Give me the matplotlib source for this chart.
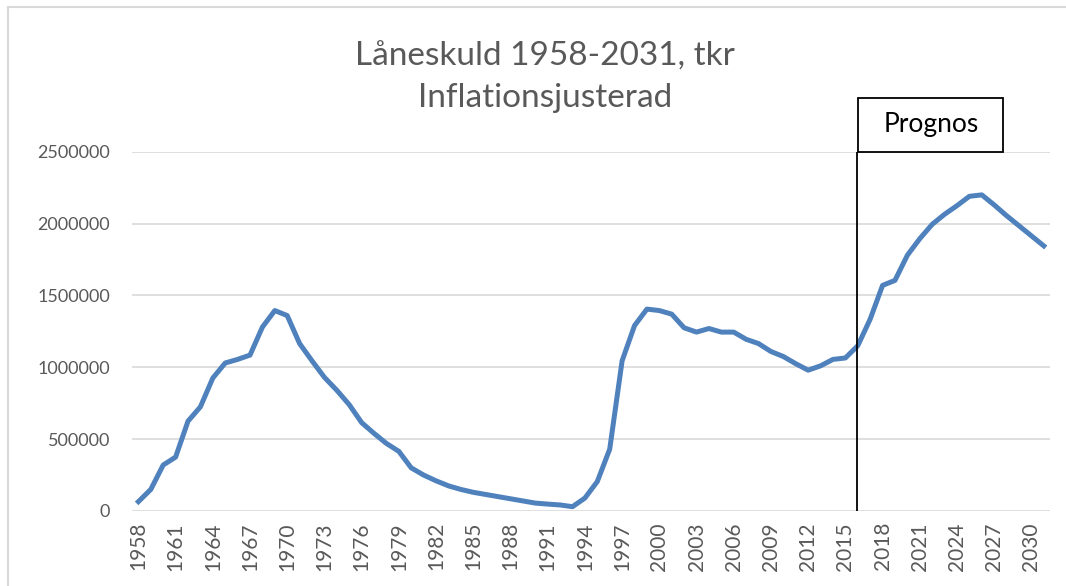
import matplotlib.pyplot as plt
from matplotlib.patches import Rectangle
from matplotlib.lines import Line2D

plt.rcParams['font.family'] = ['Lato', 'DejaVu Sans']

years = list(range(1958, 2032))
skuld = [65000, 150000, 320000, 375000, 625000, 725000, 925000, 1030000, 1055000, 1085000,
         1280000, 1395000, 1360000, 1165000, 1045000, 930000, 840000, 740000, 615000, 540000,
         470000, 415000, 300000, 250000, 210000, 175000, 150000, 130000, 115000, 100000,
         85000, 70000, 55000, 48000, 42000, 30000, 90000, 205000, 430000, 1045000,
         1290000, 1405000, 1395000, 1370000, 1275000, 1245000, 1270000, 1245000, 1245000, 1195000,
         1165000, 1110000, 1075000, 1025000, 980000, 1010000, 1055000, 1065000, 1150000, 1335000,
         1570000, 1605000, 1780000, 1895000, 1995000, 2065000, 2125000, 2190000, 2200000, 2130000,
         2055000, 1985000, 1915000, 1845000]
prognos_ar = 2016
yticks = [0, 500000, 1000000, 1500000, 2000000, 2500000]

grey = '#595959'
fig = plt.figure(figsize=(10.66, 5.86), dpi=100)
ax = fig.add_axes([0.124, 0.128, 0.861, 0.613])

# diagramramen (syns bara upptill och till vänster)
fig.add_artist(Line2D([0.0075, 1.0], [0.988, 0.988], color='#D9D9D9', linewidth=1.5))
fig.add_artist(Line2D([0.0075, 0.0075], [0.0, 0.988], color='#D9D9D9', linewidth=1.5))

x = list(range(len(years)))
ax.plot(x, skuld, color='#4F81BD', linewidth=3.6, solid_joinstyle='round', zorder=3)

# prognos-linje och ruta
xp = years.index(prognos_ar) - 0.1
ax.plot([xp, xp], [0, 2500000], color='black', linewidth=1.3, zorder=4)
ax.add_patch(Rectangle((xp + 0.15, 2500000), 11.7, 376000, fill=False,
                       edgecolor='black', linewidth=1.3, clip_on=False))
ax.text(xp + 0.15 + 5.85, 2500000 + 188000, 'Prognos', ha='center', va='center',
        fontsize=19, color='black')

ax.set_xlim(-0.5, len(years) - 0.5)
ax.set_ylim(0, 2500000)
ax.set_yticks(yticks)
ax.set_yticklabels([str(v) for v in yticks])
ax.set_xticks(x[::3])
ax.set_xticklabels([str(y) for y in years[::3]], rotation=90)
ax.tick_params(axis='y', length=0, labelsize=13, colors=grey, pad=16)
ax.tick_params(axis='x', length=0, labelsize=15, colors=grey, pad=8)
ax.grid(axis='y', color='#D9D9D9', linewidth=1.2)
ax.set_axisbelow(True)
for s in ax.spines.values():
    s.set_visible(False)

fig.text(0.511, 0.868, 'Låneskuld 1958-2031, tkr\nInflationsjusterad', ha='center',
         va='center', fontsize=24, color=grey, linespacing=1.5)

fig.savefig('out.png', dpi=100)
